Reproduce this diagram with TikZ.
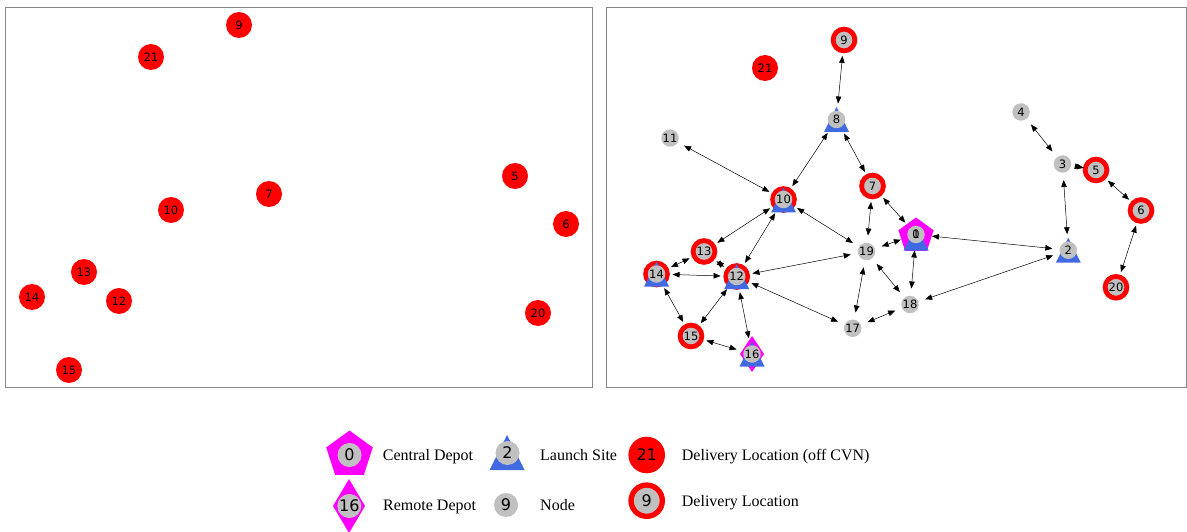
\documentclass[tikz,border=0pt]{standalone}
\usepackage{fontspec}
\setmainfont{Liberation Serif}
\newfontfamily\labfont{DejaVu Sans}
\usetikzlibrary{arrows.meta}

\definecolor{silverg}{RGB}{192,192,192}
\definecolor{royal}{RGB}{65,105,225}
\definecolor{framegray}{RGB}{135,135,135}
\definecolor{depotpink}{RGB}{255,0,255}
\definecolor{purered}{RGB}{255,0,0}

% marker shapes drawn behind the labelled circles
\newcommand\RTri[3]{\fill[royal] ({#1},{#2-#3}) -- ({#1+#3},{#2+#3}) -- ({#1-#3},{#2+#3}) -- cycle;}
\newcommand\RPent[3]{\fill[depotpink] ({#1},{#2-#3}) -- ({#1-0.951*#3},{#2-0.309*#3}) -- ({#1-0.588*#3},{#2+0.809*#3}) -- ({#1+0.588*#3},{#2+0.809*#3}) -- ({#1+0.951*#3},{#2-0.309*#3}) -- cycle;}
\newcommand\RDiam[4]{\fill[depotpink] ({#1},{#2-#4}) -- ({#1+#3},{#2}) -- ({#1},{#2+#4}) -- ({#1-#3},{#2}) -- cycle;}
\newcommand\RRing[2]{\draw[purered, fill=silverg, line width=4.8pt] (#1,#2) circle[radius=10.9];}

\tikzset{
  numfont/.style={font=\labfont\fontsize{11.5}{13}\selectfont},
  bignum/.style={font=\labfont\fontsize{16}{18}\selectfont},
  plain/.style={circle, fill=silverg, minimum size=17.5pt, inner sep=0pt, outer sep=7.3pt, numfont},
  ring/.style={circle, fill=silverg, draw=purered, line width=4.8pt, minimum size=21.8pt, inner sep=0pt, outer sep=5.1pt, numfont},
  offcvn/.style={circle, fill=purered, minimum size=26pt, inner sep=0pt, outer sep=3pt, numfont},
  leftred/.style={circle, fill=purered, minimum size=26pt, inner sep=0pt, numfont},
  link/.style={draw=black, line width=0.5pt, {Triangle[length=7pt,width=5.5pt]}-{Triangle[length=7pt,width=5.5pt]}},
  panel/.style={draw=framegray, line width=1pt},
  legtext/.style={anchor=base west, inner sep=0pt, font=\fontsize{16}{18}\selectfont},
  legplain/.style={circle, fill=silverg, minimum size=24pt, inner sep=0pt, bignum},
}

\begin{document}
\begin{tikzpicture}[x=1pt,y=-1pt]
\useasboundingbox (0,0) rectangle (1187,532);
\fill[white] (0,0) rectangle (1187,532);

% ---------- left panel: delivery locations only ----------
\draw[panel] (5.5,8) rectangle (592,387);
\node[leftred] (L9)  at (239,25)  {9};
\node[leftred] (L21) at (151,57)  {21};
\node[leftred] (L5)  at (515,176) {5};
\node[leftred] (L7)  at (269,194) {7};
\node[leftred] (L10) at (171,210) {10};
\node[leftred] (L6)  at (566,224) {6};
\node[leftred] (L13) at (84,272)  {13};
\node[leftred] (L14) at (32,297)  {14};
\node[leftred] (L12) at (119,301) {12};
\node[leftred] (L20) at (538,313) {20};
\node[leftred] (L15) at (69,370)  {15};

% ---------- right panel: network ----------
\draw[panel] (606,8) rectangle (1186.5,387);

% markers under the labels
\RPent{916}{236}{18.5}
\RTri{916}{238}{12.5}
\RTri{836.5}{119.5}{12.5}
\RTri{1068.3}{250.2}{12.5}
\RRing{783.5}{199.5}
\RTri{783.5}{200}{12.5}
\RRing{736.7}{276.5}
\RTri{736.7}{276.5}{12.5}
\RRing{656.5}{274}
\RTri{656.5}{274}{12.5}
\RDiam{752}{354}{12}{18}
\RTri{752}{354}{12.5}

% labelled nodes
\node[ring]   (n9)  at (844,40)       {9};
\node[offcvn] (n21) at (765,68)       {21};
\node[plain]  (n8)  at (836.5,119.5)  {8};
\node[plain]  (n11) at (670,138)      {11};
\node[plain]  (n4)  at (1021,112)     {4};
\node[plain]  (n3)  at (1062.5,164)   {3};
\node[ring]   (n5)  at (1096,170)     {5};
\node[ring]   (n7)  at (872.5,186)    {7};
\node[plain]  (n10) at (783.5,199.5)  {10};
\node[ring]   (n6)  at (1141,210.5)   {6};
\node[plain]  (n0)  at (916,234.5)    {0};
\node[numfont, inner sep=0pt] (n1) at (916,234.5) {1};
\node[plain]  (n19) at (866.5,251.5)  {19};
\node[plain]  (n2)  at (1068.3,250.2) {2};
\node[ring]   (n13) at (704,251.5)    {13};
\node[plain]  (n14) at (656.5,274)    {14};
\node[plain]  (n12) at (736.7,276.5)  {12};
\node[ring]   (n20) at (1116,287.3)   {20};
\node[plain]  (n18) at (910,304.5)    {18};
\node[plain]  (n17) at (852.7,328.3)  {17};
\node[ring]   (n15) at (691,336)      {15};
\node[plain]  (n16) at (752,354)      {16};

% connections
\draw[link] (n9) -- (n8);
\draw[link] (n8) -- (n10);
\draw[link] (n8) -- (n7);
\draw[link] (n11) -- (n10);
\draw[link] (n10) -- (n13);
\draw[link] (n10) -- (n12);
\draw[link] (n10) -- (n19);
\draw[link] (n7) -- (n19);
\draw[link] (n7) -- (n0);
\draw[link] (n19) -- (n0);
\draw[link] (n0) -- (n18);
\draw[link] (n0) -- (n2);
\draw[link] (n18) -- (n2);
\draw[link] (n2) -- (n3);
\draw[link] (n3) -- (n4);
\draw[link, shorten <=-3.5pt, shorten >=-3.5pt] (n3) -- (n5);
\draw[link] (n5) -- (n6);
\draw[link] (n6) -- (n20);
\draw[link] (n19) -- (n12);
\draw[link] (n19) -- (n18);
\draw[link] (n19) -- (n17);
\draw[link] (n18) -- (n17);
\draw[link] (n12) -- (n17);
\draw[link] (n14) -- (n13);
\draw[link] (n14) -- (n12);
\draw[link] (n13) -- (n12);
\draw[link] (n14) -- (n15);
\draw[link] (n15) -- (n12);
\draw[link] (n15) -- (n16);
\draw[link] (n12) -- (n16);

% ---------- legend ----------
\RPent{349.5}{455}{24.5}
\node[legplain] (leg0) at (349.5,455) {0};
\node[legtext] (lt0) at (382.7,460.7) {Central Depot};

\RTri{507}{452.5}{17.5}
\node[legplain] (leg2) at (507.5,453) {2};
\node[legtext] (lt2) at (540,460.7) {Launch Site};

\node[circle, fill=purered, minimum size=36.6pt, inner sep=0pt, bignum] (leg21) at (646.7,455) {21};
\node[legtext] (lt21) at (681.7,460.7) {Delivery Location (off CVN)};

\RDiam{349}{506}{16}{27}
\node[legplain] (leg16) at (349.3,506) {16};
\node[legtext] (lt16) at (383,510.7) {Remote Depot};

\node[legplain] (leg9) at (506,505) {9};
\node[legtext] (lt9) at (540,510.7) {Node};

\node[circle, fill=silverg, draw=purered, line width=5.3pt, minimum size=31.3pt, inner sep=0pt, bignum] (leg9r) at (646.7,500.7) {9};
\node[legtext] (lt9r) at (681.7,506) {Delivery Location};
\end{tikzpicture}
\end{document}
